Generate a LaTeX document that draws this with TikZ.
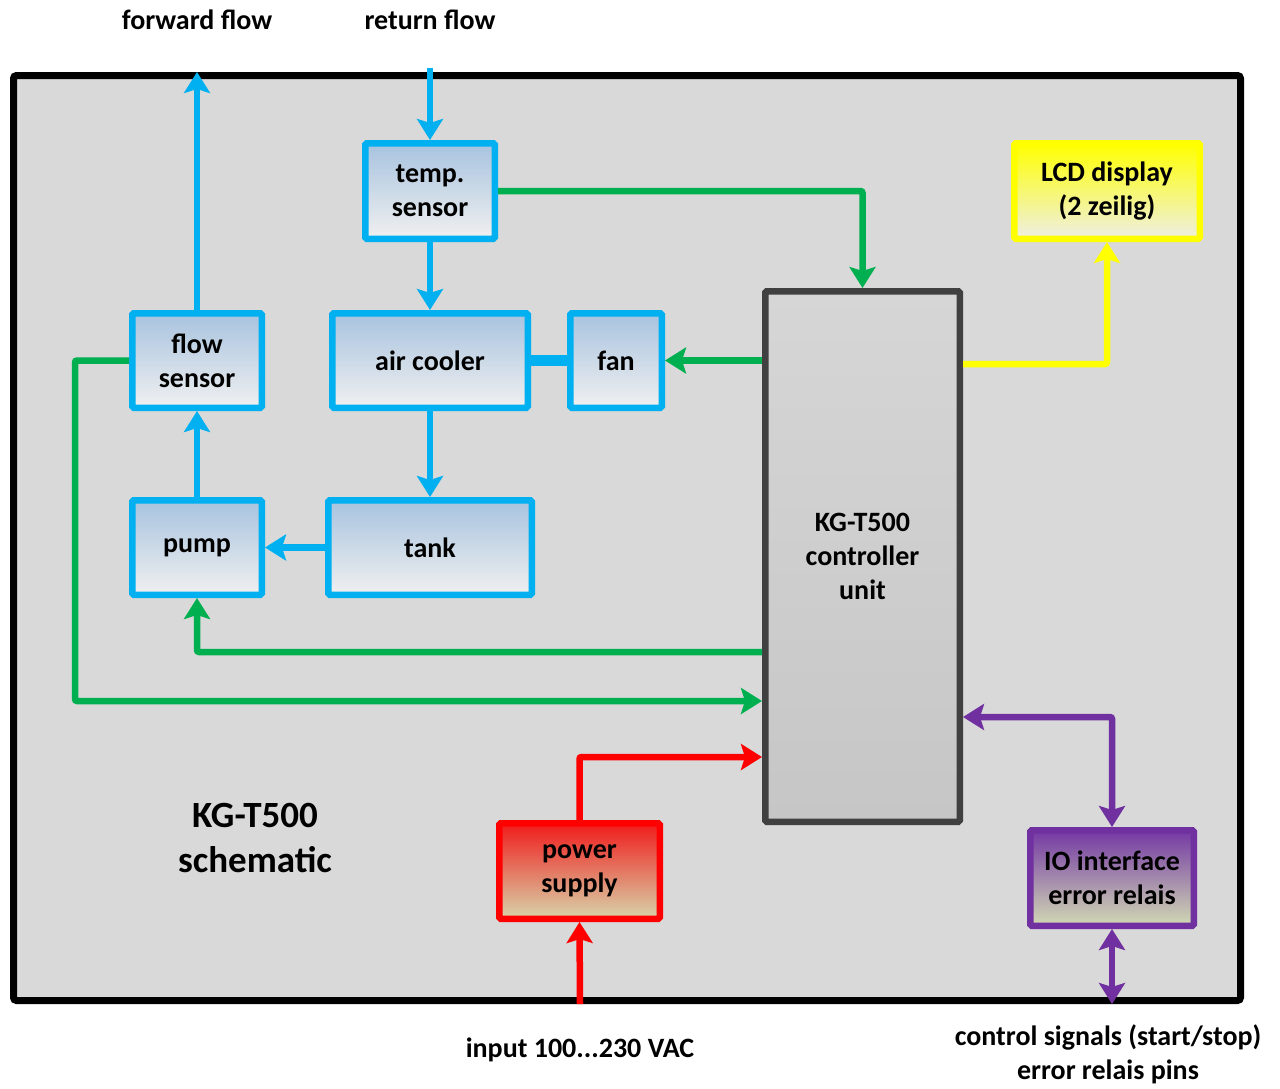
\documentclass[tikz,border=0pt]{standalone}
\usepackage{fontspec}
\setmainfont{Carlito}
\usepackage{xcolor}
\usetikzlibrary{arrows.meta, positioning, calc}

\definecolor{waterblue}{HTML}{00B0F0}
\definecolor{sigreen}{HTML}{00B050}
\definecolor{pwrred}{HTML}{FF0000}
\definecolor{lcdyellow}{HTML}{FFFF00}
\definecolor{iopurple}{HTML}{7030A0}
\definecolor{framegray}{HTML}{D9D9D9}
\definecolor{ctrlgray}{HTML}{404040}
\definecolor{boxtop}{HTML}{A8C3DF}
\definecolor{boxbot}{HTML}{F0F0F0}
\definecolor{ctrltop}{HTML}{D6D6D6}
\definecolor{ctrlbot}{HTML}{C6C6C6}
\definecolor{lcdbot}{HTML}{EEEFE4}
\definecolor{psutop}{HTML}{F01C1C}
\definecolor{psubot}{HTML}{D8D4AA}
\definecolor{iotop}{HTML}{7438A4}
\definecolor{iobot}{HTML}{D2DAB4}

\begin{document}
\begin{tikzpicture}[x=1pt, y=-1pt,
    every node/.style={font=\bfseries\fontsize{28}{34}\selectfont, align=center, inner sep=0pt},
    box/.style={draw=waterblue, line width=6.5pt, rounded corners=1.5pt, top color=boxtop, bottom color=boxbot},
    wire/.style={line width=6.5pt, rounded corners=2pt, -{Stealth[length=21pt, width=26pt, inset=4pt]}},
    pipe/.style={wire, draw=waterblue},
    sig/.style={wire, draw=sigreen},
    pwr/.style={wire, draw=pwrred},
    bus/.style={wire, draw=iopurple, {Stealth[length=21pt, width=26pt, inset=4pt]}-{Stealth[length=21pt, width=26pt, inset=4pt]}}]
    \useasboundingbox (0,0) rectangle (1280,1088);
    \draw[line width=7pt, fill=framegray, rounded corners=3pt] (13.5,75.5) rectangle (1240.5,1000.5);

    \node (fwdlbl) at (197,20) {forward flow};
    \node (retlbl) at (430,20) {return flow};
    \node[font=\bfseries\fontsize{37}{45}\selectfont] (title) at (255,838) {KG-T500\\schematic};
    \node (aclbl) at (580,1050) {input 100...230 VAC};
    \node (ctllbl) at (1108,1054) {control signals (start/stop)\\error relais pins};

    \node[box, minimum width=129.5pt, minimum height=95.5pt] (temp) at (430,191) {temp.\\sensor};
    \node[box, minimum width=195.5pt, minimum height=94.5pt] (cooler) at (430,360.5) {air cooler};
    \node[box, minimum width=91.5pt, minimum height=94.5pt] (fan) at (616,360.5) {fan};
    \node[box, minimum width=129.5pt, minimum height=94.5pt] (flow) at (197,360.5) {flow\\sensor};
    \node[box, minimum width=129.5pt, minimum height=94.5pt] (pump) at (197,547.5) {pump};
    \node[box, minimum width=203.5pt, minimum height=94.5pt] (tank) at (430,547.5) {tank};
    \node[draw=ctrlgray, line width=6.5pt, rounded corners=1.5pt, top color=ctrltop, bottom color=ctrlbot,
        minimum width=194.5pt, minimum height=530.5pt] (ctrl) at (862.5,556.5) {KG-T500\\controller\\unit};
    \node[draw=lcdyellow, line width=6.5pt, rounded corners=1.5pt, top color=lcdyellow, bottom color=lcdbot,
        minimum width=185.5pt, minimum height=95.5pt] (lcd) at (1107,191) {LCD display\\(2 zeilig)};
    \node[draw=pwrred, line width=6.5pt, rounded corners=1.5pt, top color=psutop, bottom color=psubot,
        minimum width=160.5pt, minimum height=95.5pt] (psu) at (579.5,871) {power\\supply};
    \node[draw=iopurple, line width=6.5pt, rounded corners=1.5pt, top color=iotop, bottom color=iobot,
        minimum width=163.5pt, minimum height=95.5pt] (io) at (1112,878) {IO interface\\error relais};

    \coordinate (fwdout) at (197,72);
    \coordinate (retin) at (430,68);
    \draw[pipe] (flow.north) -- (fwdout);
    \draw[pipe] (retin) -- (temp.north);
    \draw[pipe] (temp.south) -- (cooler.north);
    \draw[pipe] (cooler.south) -- (tank.north);
    \draw[pipe] (tank.west) -- (pump.east);
    \draw[pipe] (pump.north) -- (flow.south);
    \draw[waterblue, line width=11pt] (cooler.east) -- (fan.west);

    \coordinate (pumpjoint) at (197,652);
    \coordinate (flowjoint) at (75,701);
    \draw[sig] (temp.east) -| (ctrl.north);
    \draw[sig] (ctrl.west |- fan.east) -- (fan.east);
    \draw[sig] (ctrl.west |- pumpjoint) -| (pump.south);
    \draw[sig] (flow.west) -| (flowjoint) -- (ctrl.west |- flowjoint);

    \coordinate (psujoint) at (580,757);
    \coordinate (acin) at (580,1004);
    \draw[pwr] (psu.north) |- (ctrl.west |- psujoint);
    \draw[pwr] (acin) -- (psu.south);

    \coordinate (lcdjoint) at (1107,364);
    \draw[wire, draw=lcdyellow] (ctrl.east |- lcdjoint) -| (lcd.south);

    \coordinate (iojoint) at (1112,717);
    \coordinate (ioout) at (1112,1004);
    \draw[bus] (ctrl.east |- iojoint) -| (io.north);
    \draw[bus] (io.south) -- (ioout);
\end{tikzpicture}
\end{document}
